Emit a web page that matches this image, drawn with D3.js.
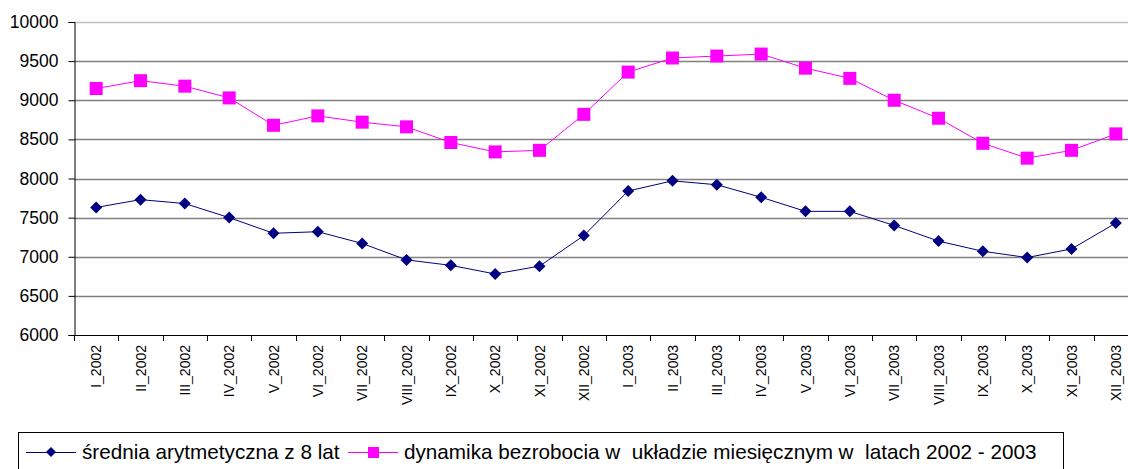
<!DOCTYPE html>
<html>
<head>
	<meta charset="utf-8">
	<script src="https://cdn.jsdelivr.net/npm/d3@7"></script>
	<style>
		body { margin: 0; background: #fff; }
		svg { display: block; font-family: "Liberation Sans", Arial, sans-serif; }
	</style>
</head>
<body>
	<div id="chart"></div>
	<script>
		// months on the x axis
		var months = ["I_2002", "II_2002", "III_2002", "IV_2002", "V_2002", "VI_2002",
			"VII_2002", "VIII_2002", "IX_2002", "X_2002", "XI_2002", "XII_2002",
			"I_2003", "II_2003", "III_2003", "IV_2003", "V_2003", "VI_2003",
			"VII_2003", "VIII_2003", "IX_2003", "X_2003", "XI_2003", "XII_2003"];

		// średnia arytmetyczna z 8 lat
		var srednia = [7630, 7730, 7680, 7500, 7300, 7320, 7170, 6960, 6890, 6780, 6880, 7270,
			7840, 7970, 7920, 7760, 7580, 7580, 7400, 7200, 7070, 6990, 7100, 7430];

		// dynamika bezrobocia
		var dynamika = [9150, 9250, 9180, 9030, 8680, 8800, 8720, 8660, 8460, 8340, 8360, 8820,
			9360, 9540, 9565, 9590, 9410, 9280, 9000, 8770, 8450, 8260, 8360, 8570];

		var yTicks = [6000, 6500, 7000, 7500, 8000, 8500, 9000, 9500, 10000];

		var legendLabels = ["średnia arytmetyczna z 8 lat",
			"dynamika bezrobocia w  układzie miesięcznym w  latach 2002 - 2003"];

		var width = 1128, height = 469;
		var plotLeft = 74, plotRight = 1138, plotTop = 22, plotBottom = 335;

		var svg = d3.select("#chart").append("svg")
			.attr("width", width)
			.attr("height", height);

		var x = d3.scaleBand()
			.domain(months)
			.range([plotLeft, plotRight]);

		var y = d3.scaleLinear()
			.domain([6000, 10000])
			.range([plotBottom, plotTop]);

		var cx = function(d, i) { return x(months[i]) + x.bandwidth() / 2; };

		// gridlines
		svg.append("g").selectAll("line")
			.data(yTicks.slice(1))
			.enter().append("line")
			.attr("x1", plotLeft).attr("x2", width)
			.attr("y1", function(d) { return Math.round(y(d)) + 0.5; })
			.attr("y2", function(d) { return Math.round(y(d)) + 0.5; })
			.attr("stroke", function(d) { return d == 10000 ? "#c0c0c0" : "#808080"; })
			.attr("stroke-width", 1.6);

		// y axis
		var yAxis = svg.append("g")
			.attr("transform", "translate(" + (plotLeft + 0.5) + ",0)")
			.call(d3.axisLeft(y).tickValues(yTicks).tickSize(6).tickPadding(10).tickFormat(d3.format("d")));
		yAxis.select(".domain").attr("stroke", "#000");
		yAxis.selectAll("line").attr("stroke", "#000");
		yAxis.selectAll("text").attr("font-size", 17.5).attr("fill", "#000").attr("font-family", "Liberation Sans, Arial, sans-serif");

		// x axis with ticks at band boundaries
		var xg = svg.append("g");
		xg.append("line")
			.attr("x1", plotLeft).attr("x2", width)
			.attr("y1", plotBottom + 0.5).attr("y2", plotBottom + 0.5)
			.attr("stroke", "#000");
		xg.selectAll(".tk")
			.data(months)
			.enter().append("line")
			.attr("class", "tk")
			.attr("x1", function(d) { return Math.round(x(d)) + 0.5; })
			.attr("x2", function(d) { return Math.round(x(d)) + 0.5; })
			.attr("y1", plotBottom).attr("y2", plotBottom + 6)
			.attr("stroke", "#000");
		xg.selectAll("text")
			.data(months)
			.enter().append("text")
			.attr("transform", function(d, i) {
				return "translate(" + (cx(d, i) + 5) + "," + (plotBottom + 10) + ") rotate(-90)";
			})
			.attr("text-anchor", "end")
			.attr("font-size", 14)
			.attr("fill", "#000")
			.text(function(d) { return d; });

		// lines
		var line = d3.line()
			.x(function(d, i) { return cx(d, i); })
			.y(function(d) { return y(d); });

		svg.append("path")
			.datum(srednia)
			.attr("d", line)
			.attr("fill", "none")
			.attr("stroke", "#000080")
			.attr("stroke-width", 1);

		svg.append("path")
			.datum(dynamika)
			.attr("d", line)
			.attr("fill", "none")
			.attr("stroke", "#ff00ff")
			.attr("stroke-width", 1);

		var diamond = d3.symbol().type(d3.symbolSquare).size(72);

		svg.append("g").selectAll("path")
			.data(srednia)
			.enter().append("path")
			.attr("d", diamond)
			.attr("transform", function(d, i) { return "translate(" + cx(d, i) + "," + y(d) + ") rotate(45)"; })
			.attr("fill", "#000080");

		svg.append("g").selectAll("rect")
			.data(dynamika)
			.enter().append("rect")
			.attr("x", function(d, i) { return cx(d, i) - 6.5; })
			.attr("y", function(d) { return y(d) - 6.5; })
			.attr("width", 13).attr("height", 13)
			.attr("fill", "#ff00ff");

		// legend
		var lg = svg.append("g");
		lg.append("rect")
			.attr("x", 18.5).attr("y", 432.5)
			.attr("width", 1045).attr("height", 60)
			.attr("fill", "#fff").attr("stroke", "#000");

		var ly = 452;
		var items = [
			{ x: 26, color: "#000080", shape: "diamond", label: legendLabels[0] },
			{ x: 348, color: "#ff00ff", shape: "square", label: legendLabels[1] }
		];
		items.forEach(function(it) {
			lg.append("line")
				.attr("x1", it.x).attr("x2", it.x + 50)
				.attr("y1", ly + 0.5).attr("y2", ly + 0.5)
				.attr("stroke", it.color);
			if (it.shape == "diamond") {
				lg.append("path")
					.attr("d", d3.symbol().type(d3.symbolSquare).size(50))
					.attr("transform", "translate(" + (it.x + 25) + "," + ly + ") rotate(45)")
					.attr("fill", it.color);
			} else {
				lg.append("rect")
					.attr("x", it.x + 20).attr("y", ly - 5)
					.attr("width", 11).attr("height", 11)
					.attr("fill", it.color);
			}
			lg.append("text")
				.attr("x", it.x + 56).attr("y", ly + 7)
				.attr("font-size", 20.7)
				.attr("fill", "#000")
				.style("white-space", "pre")
				.text(it.label);
		});
	</script>
</body>
</html>
